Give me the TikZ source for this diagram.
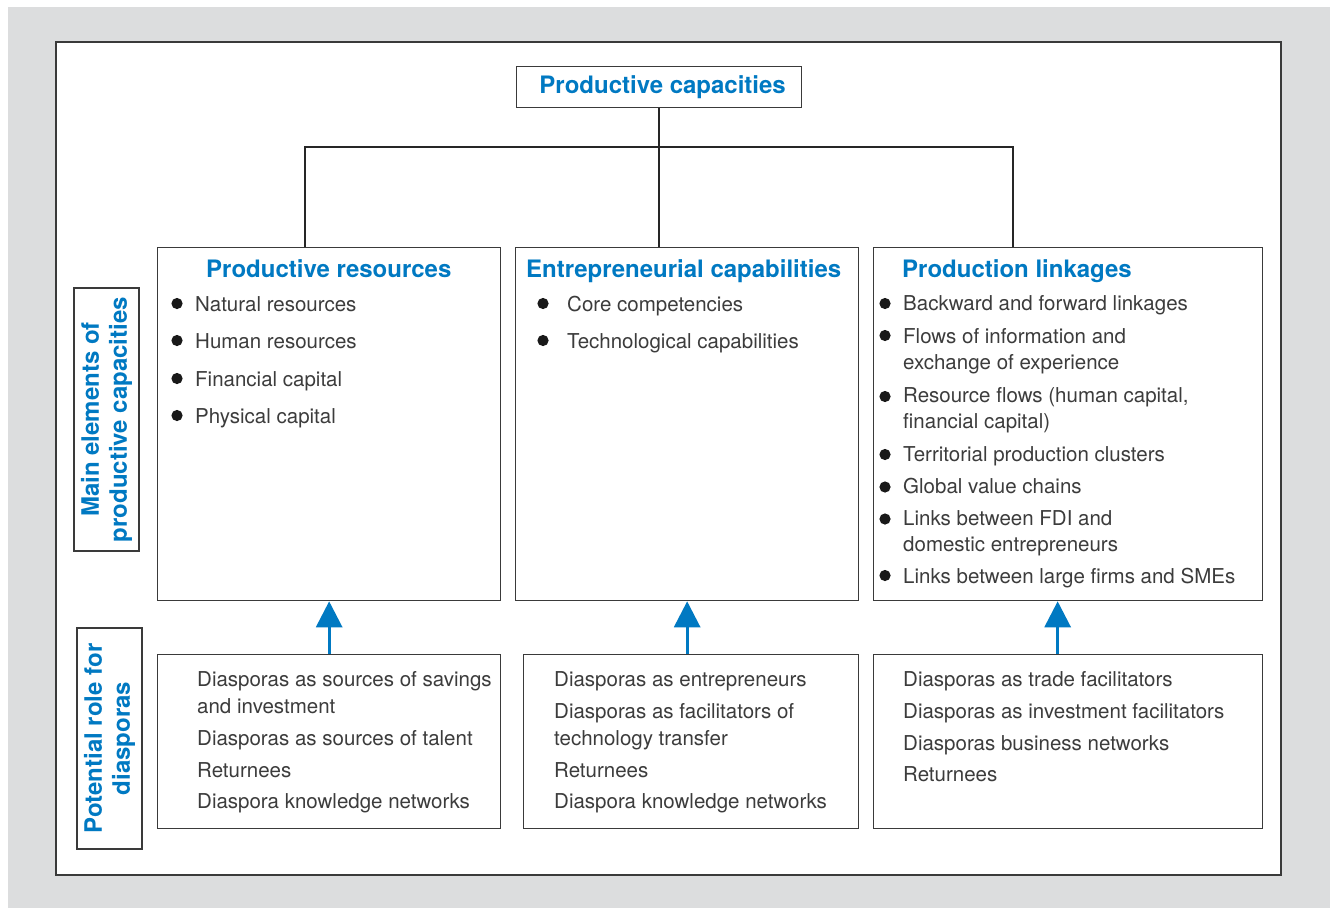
\documentclass[tikz,border=0pt]{standalone}
\usepackage{fontspec}
\setmainfont{TeX Gyre Heros}
\usetikzlibrary{arrows.meta,calc}

\definecolor{pageGray}{HTML}{DCDDDE}
\definecolor{capBlue}{HTML}{0079C2}
\definecolor{frameGray}{HTML}{3A3A3A}
\definecolor{bodyGray}{HTML}{3C3C3C}

\newcommand\bodyfnt{\fontsize{20.5}{24}\selectfont}
\newcommand\headfnt{\fontsize{24}{28}\selectfont\bfseries}

\begin{document}
\begin{tikzpicture}[x=1pt,y=-1pt,
  panel/.style={draw=frameGray, line width=1.3pt, inner sep=0pt, anchor=north west},
  heading/.style={font=\headfnt, text=capBlue, anchor=base west, inner sep=0pt},
  entry/.style={font=\bodyfnt, text=bodyGray, anchor=base west, inner sep=0pt},
  sidelabel/.style={draw=frameGray, line width=1.3pt, rotate=90, align=center,
    font=\headfnt, text=capBlue, inner sep=0pt},
  branch/.style={draw=black!85, line width=2.2pt},
  feed/.style={draw=capBlue, line width=3pt, -{Triangle[width=26pt,length=26pt]}},
  dot/.style={fill=black!90}
]
\useasboundingbox (0,0) rectangle (1331,908);

% page background and outer frame
\fill[pageGray] (8,7) rectangle (1330,908);
\filldraw[fill=white, draw=frameGray, line width=1.5pt] (56,42) rectangle (1281,875);

% top of the tree
\node[panel, minimum width=285pt, minimum height=41pt, font=\headfnt, text=capBlue]
  (pc) at (516,66) {\hspace*{7pt}Productive capacities};

% three element panels
\node[panel, minimum width=343pt, minimum height=353pt] (r1) at (157,247) {};
\node[panel, minimum width=343pt, minimum height=353pt] (r2) at (515,247) {};
\node[panel, minimum width=389pt, minimum height=353pt] (r3) at (873,247) {};

% diaspora panels
\node[panel, minimum width=343pt, minimum height=174pt] (d1) at (157,654) {};
\node[panel, minimum width=335pt, minimum height=174pt] (d2) at (523,654) {};
\node[panel, minimum width=389pt, minimum height=174pt] (d3) at (873,654) {};

% row labels
\node[sidelabel, minimum width=263pt, minimum height=65pt] (rowA) at (106.5,419.5)
  {Main elements of\\productive capacities};
\node[sidelabel, minimum width=221pt, minimum height=65pt] (rowB) at (109.5,738.5)
  {Potential role for\\diasporas};

% tree connectors
\coordinate (jl) at (305,147);
\coordinate (jr) at (1013,147);
\draw[branch] (pc.south -| 659,0) -- (r2.north -| 659,0);
\draw[branch] (jl |- r1.north) -- (jl) -- (jr) -- (jr |- r3.north);

% upward arrows
\draw[feed] (r1.south |- d1.north) -- (r1.south);
\draw[feed] (r2.south |- d2.north) -- (r2.south);
\draw[feed] ([xshift=-10.5pt]r3.south |- d3.north) -- ([xshift=-10.5pt]r3.south);

% panel 1: productive resources
\node[heading] (h1) at (206,277) {Productive resources};
\node[entry] (a1) at (195,311) {Natural resources};
\node[entry] (a2) at (195,348) {Human resources};
\node[entry] (a3) at (195,386) {Financial capital};
\node[entry] (a4) at (195,423) {Physical capital};
\foreach \y in {303.5,340.5,378.5,415.5} \fill[dot] (177,\y) circle[radius=5.6pt];

% panel 2: entrepreneurial capabilities
\node[heading] (h2) at (526,277) {Entrepreneurial capabilities};
\node[entry] (b1) at (567,311) {Core competencies};
\node[entry] (b2) at (567,348) {Technological capabilities};
\foreach \y in {303.5,340.5} \fill[dot] (543,\y) circle[radius=5.6pt];

% panel 3: production linkages
\node[heading] (h3) at (902,277) {Production linkages};
\node[entry] (c1) at (903,310.5) {Backward and forward linkages};
\node[entry] (c2) at (903,343) {Flows of information and};
\node[entry] (c3) at (903,369.5) {exchange of experience};
\node[entry] (c4) at (903,402) {Resource flows (human capital,};
\node[entry] (c5) at (903,428.5) {financial capital)};
\node[entry] (c6) at (903,461) {Territorial production clusters};
\node[entry] (c7) at (903,493) {Global value chains};
\node[entry] (c8) at (903,525) {Links between FDI and};
\node[entry] (c9) at (903,551) {domestic entrepreneurs};
\node[entry] (c10) at (903,583) {Links between large firms and SMEs};
\foreach \y in {303.5,335.5,396.5,454.5,487,519,575.5} \fill[dot] (885,\y) circle[radius=5.6pt];

% diaspora panel 1
\node[entry] (e1) at (197,686) {Diasporas as sources of savings};
\node[entry] (e2) at (197,713) {and investment};
\node[entry] (e3) at (197,745) {Diasporas as sources of talent};
\node[entry] (e4) at (197,777) {Returnees};
\node[entry] (e5) at (197,808.5) {Diaspora knowledge networks};

% diaspora panel 2
\node[entry] (f1) at (554,686) {Diasporas as entrepreneurs};
\node[entry] (f2) at (554,718) {Diasporas as facilitators of};
\node[entry] (f3) at (554,745) {technology transfer};
\node[entry] (f4) at (554,777) {Returnees};
\node[entry] (f5) at (554,808.5) {Diaspora knowledge networks};

% diaspora panel 3
\node[entry] (g1) at (903,686) {Diasporas as trade facilitators};
\node[entry] (g2) at (903,718) {Diasporas as investment facilitators};
\node[entry] (g3) at (903,750) {Diasporas business networks};
\node[entry] (g4) at (903,781.5) {Returnees};
\end{tikzpicture}
\end{document}
